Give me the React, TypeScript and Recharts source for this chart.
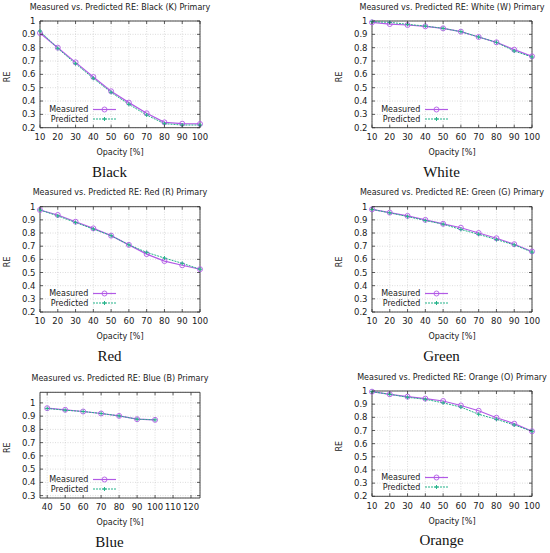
import React from 'react';
import { LineChart, Line, XAxis, YAxis, CartesianGrid, ReferenceArea, Legend } from 'recharts';

// ---- data ----
const opacity = [10, 20, 30, 40, 50, 60, 70, 80, 90, 100];
const blueOpacity = [40, 50, 60, 70, 80, 90, 100];

const blackMeasured = [0.91, 0.8, 0.69, 0.58, 0.473, 0.388, 0.308, 0.24, 0.23, 0.228];
const blackPredicted = [0.925, 0.795, 0.68, 0.57, 0.465, 0.375, 0.295, 0.23, 0.22, 0.22];
const whiteMeasured = [0.99, 0.977, 0.97, 0.96, 0.945, 0.92, 0.88, 0.84, 0.785, 0.735];
const whitePredicted = [0.995, 0.99, 0.975, 0.962, 0.945, 0.92, 0.88, 0.84, 0.775, 0.73];
const redMeasured = [0.975, 0.937, 0.886, 0.835, 0.78, 0.71, 0.64, 0.587, 0.555, 0.525];
const redPredicted = [0.975, 0.93, 0.88, 0.83, 0.78, 0.71, 0.653, 0.61, 0.57, 0.525];
const greenMeasured = [0.98, 0.955, 0.93, 0.9, 0.87, 0.84, 0.8, 0.76, 0.715, 0.66];
const greenPredicted = [0.98, 0.953, 0.925, 0.895, 0.867, 0.827, 0.79, 0.75, 0.71, 0.655];
const blueMeasured = [0.96, 0.948, 0.935, 0.92, 0.902, 0.877, 0.872];
const bluePredicted = [0.958, 0.945, 0.935, 0.92, 0.902, 0.877, 0.872];
const orangeMeasured = [0.995, 0.975, 0.957, 0.942, 0.924, 0.89, 0.85, 0.797, 0.752, 0.694];
const orangePredicted = [0.995, 0.975, 0.952, 0.937, 0.91, 0.878, 0.823, 0.785, 0.742, 0.694];

const xTicks = [10, 20, 30, 40, 50, 60, 70, 80, 90, 100];
const blueXTicks = [40, 50, 60, 70, 80, 90, 100, 110, 120];
const yTicks = [0.2, 0.3, 0.4, 0.5, 0.6, 0.7, 0.8, 0.9, 1];
const blueYTicks = [0.3, 0.4, 0.5, 0.6, 0.7, 0.8, 0.9, 1];

const seriesNames = ['Measured', 'Predicted'];

// ---- styles ----
const FONT = 'DejaVu Sans';
const SERIF = 'Liberation Serif';
const TXT = '#1a1a1a';
const AX = '#333333';
const MC = '#b25ae6';
const PC = '#25b38a';
const TICKFS = 8.5;

const W = 215;
const H = 185;
const PL = 40;
const PR = 200;

type PanelProps = {
  px: number;
  py: number;
  title: string;
  caption: string;
  xs: number[];
  measured: number[];
  predicted: number[];
  xDomain: [number, number];
  xt: number[];
  yDomain: [number, number];
  yt: number[];
  top: number;
  bottom: number;
};

function Panel(props: PanelProps) {
  const { px, py, title, caption, xs, measured, predicted, xDomain, xt, yDomain, yt, top, bottom } = props;
  const plotH = bottom - top;
  const plotW = PR - PL;
  const data = xs.map((x, i) => ({ x, m: measured[i], p: predicted[i] }));

  const XTick = (tp: any) => {
    const { x, y, payload } = tp;
    return (
      <g>
        <line x1={x} x2={x} y1={y} y2={y - 3} stroke={AX} strokeWidth={0.8} />
        <line x1={x} x2={x} y1={y - plotH} y2={y - plotH + 3} stroke={AX} strokeWidth={0.8} />
        <text x={x} y={y + 12.4} textAnchor="middle" fontSize={TICKFS} fontFamily={FONT} fill={TXT}>
          {payload.value}
        </text>
      </g>
    );
  };
  const YTick = (tp: any) => {
    const { x, y, payload } = tp;
    return (
      <g>
        <line x1={x} x2={x + 3} y1={y} y2={y} stroke={AX} strokeWidth={0.8} />
        <line x1={x + plotW - 3} x2={x + plotW} y1={y} y2={y} stroke={AX} strokeWidth={0.8} />
        <text x={x - 4.5} y={y + 3.1} textAnchor="end" fontSize={TICKFS} fontFamily={FONT} fill={TXT}>
          {String(payload.value)}
        </text>
      </g>
    );
  };

  const circleDot = (p: any) => (
    <circle key={`m${p.index}`} cx={p.cx} cy={p.cy} r={2.5} fill="none" stroke={MC} strokeWidth={0.9} />
  );
  const plusDot = (p: any) => (
    <path
      key={`p${p.index}`}
      d={`M${p.cx - 2},${p.cy}h4M${p.cx},${p.cy - 2}v4`}
      stroke={PC}
      strokeWidth={1}
      fill="none"
    />
  );

  const LegendContent = () => (
    <svg width={80} height={22} style={{ display: 'block', overflow: 'visible' }}>
      <text x={48.3} y={9.4} textAnchor="end" fontSize={8} fontFamily={FONT} fill={TXT}>
        {seriesNames[0]}
      </text>
      <line x1={53} x2={76} y1={6.5} y2={6.5} stroke={MC} strokeWidth={1.2} />
      <circle cx={64.5} cy={6.5} r={2.5} fill="none" stroke={MC} strokeWidth={0.9} />
      <text x={48.3} y={18.9} textAnchor="end" fontSize={8} fontFamily={FONT} fill={TXT}>
        {seriesNames[1]}
      </text>
      <line x1={53} x2={76} y1={16} y2={16} stroke={PC} strokeWidth={1} strokeDasharray="2 1" />
      <path d="M62.5,16h4M64.5,14v4" stroke={PC} strokeWidth={1} />
    </svg>
  );

  return (
    <div style={{ position: 'absolute', left: px, top: py, width: W, height: H }}>
      <LineChart
        width={W}
        height={H}
        data={data}
        margin={{ top, right: W - PR, bottom: H - 30 - bottom, left: PL - 30 }}
      >
        <CartesianGrid stroke="#c4c4c4" strokeWidth={0.6} strokeDasharray="1 1.5" />
        <XAxis
          type="number"
          dataKey="x"
          domain={xDomain}
          ticks={xt}
          interval={0}
          height={30}
          tickSize={0}
          tickMargin={0}
          axisLine={false}
          tickLine={false}
          tick={XTick}
        />
        <YAxis
          type="number"
          domain={yDomain}
          ticks={yt}
          interval={0}
          width={30}
          tickSize={0}
          tickMargin={0}
          axisLine={false}
          tickLine={false}
          tick={YTick}
        />
        <ReferenceArea
          x1={xDomain[0]}
          x2={xDomain[1]}
          y1={yDomain[0]}
          y2={yDomain[1]}
          fill="none"
          fillOpacity={0}
          stroke={AX}
          strokeWidth={0.9}
          ifOverflow="visible"
        />
        <Line
          type="linear"
          dataKey="m"
          name={seriesNames[0]}
          stroke={MC}
          strokeWidth={1.2}
          dot={circleDot}
          isAnimationActive={false}
        />
        <Line
          type="linear"
          dataKey="p"
          name={seriesNames[1]}
          stroke={PC}
          strokeWidth={1}
          strokeDasharray="2 1"
          dot={plusDot}
          isAnimationActive={false}
        />
        <Legend
          layout="vertical"
          align="center"
          verticalAlign="middle"
          content={LegendContent}
          wrapperStyle={{ left: PL, top: bottom - 25, width: 80, height: 22 }}
        />
      </LineChart>
      <svg
        width={W + 20}
        height={H}
        style={{ position: 'absolute', left: 0, top: 0, pointerEvents: 'none', overflow: 'visible' }}
      >
        <text x={(PL + PR) / 2} y={top - 11.4} textAnchor="middle" fontSize={8} fontFamily={FONT} fill={TXT}>
          {title}
        </text>
        <text
          transform={`translate(10.2, ${(top + bottom) / 2 + 2.5}) rotate(-90)`}
          textAnchor="middle"
          fontSize={8}
          fontFamily={FONT}
          fill={TXT}
        >
          RE
        </text>
        <text x={(PL + PR) / 2} y={bottom + 27.3} textAnchor="middle" fontSize={8} fontFamily={FONT} fill={TXT}>
          Opacity [%]
        </text>
        <text x={109.5} y={bottom + 49} textAnchor="middle" fontSize={15} fontFamily={SERIF} fill="#111">
          {caption}
        </text>
      </svg>
    </div>
  );
}

export default function App() {
  const RX = 331.7;
  return (
    <div
      style={{
        position: 'absolute',
        left: 0,
        top: 0,
        width: 550,
        height: 553,
        background: '#fff',
        overflow: 'hidden',
      }}
    >
      <Panel
        px={0}
        py={0}
        title="Measured vs. Predicted RE: Black (K) Primary"
        caption="Black"
        xs={opacity}
        measured={blackMeasured}
        predicted={blackPredicted}
        xDomain={[10, 100]}
        xt={xTicks}
        yDomain={[0.2, 1]}
        yt={yTicks}
        top={21}
        bottom={127.7}
      />
      <Panel
        px={RX}
        py={0}
        title="Measured vs. Predicted RE: White (W) Primary"
        caption="White"
        xs={opacity}
        measured={whiteMeasured}
        predicted={whitePredicted}
        xDomain={[10, 100]}
        xt={xTicks}
        yDomain={[0.2, 1]}
        yt={yTicks}
        top={21}
        bottom={127.7}
      />
      <Panel
        px={0}
        py={185}
        title="Measured vs. Predicted RE: Red (R) Primary"
        caption="Red"
        xs={opacity}
        measured={redMeasured}
        predicted={redPredicted}
        xDomain={[10, 100]}
        xt={xTicks}
        yDomain={[0.2, 1]}
        yt={yTicks}
        top={21.7}
        bottom={127}
      />
      <Panel
        px={RX}
        py={185}
        title="Measured vs. Predicted RE: Green (G) Primary"
        caption="Green"
        xs={opacity}
        measured={greenMeasured}
        predicted={greenPredicted}
        xDomain={[10, 100]}
        xt={xTicks}
        yDomain={[0.2, 1]}
        yt={yTicks}
        top={21.7}
        bottom={127}
      />
      <Panel
        px={0}
        py={370}
        title="Measured vs. Predicted RE: Blue (B) Primary"
        caption="Blue"
        xs={blueOpacity}
        measured={blueMeasured}
        predicted={bluePredicted}
        xDomain={[36, 125]}
        xt={blueXTicks}
        yDomain={[0.282, 1.08]}
        yt={blueYTicks}
        top={22.3}
        bottom={128}
      />
      <Panel
        px={RX}
        py={370}
        title="Measured vs. Predicted RE: Orange (O) Primary"
        caption="Orange"
        xs={opacity}
        measured={orangeMeasured}
        predicted={orangePredicted}
        xDomain={[10, 100]}
        xt={xTicks}
        yDomain={[0.2, 1]}
        yt={yTicks}
        top={21}
        bottom={126.3}
      />
    </div>
  );
}
